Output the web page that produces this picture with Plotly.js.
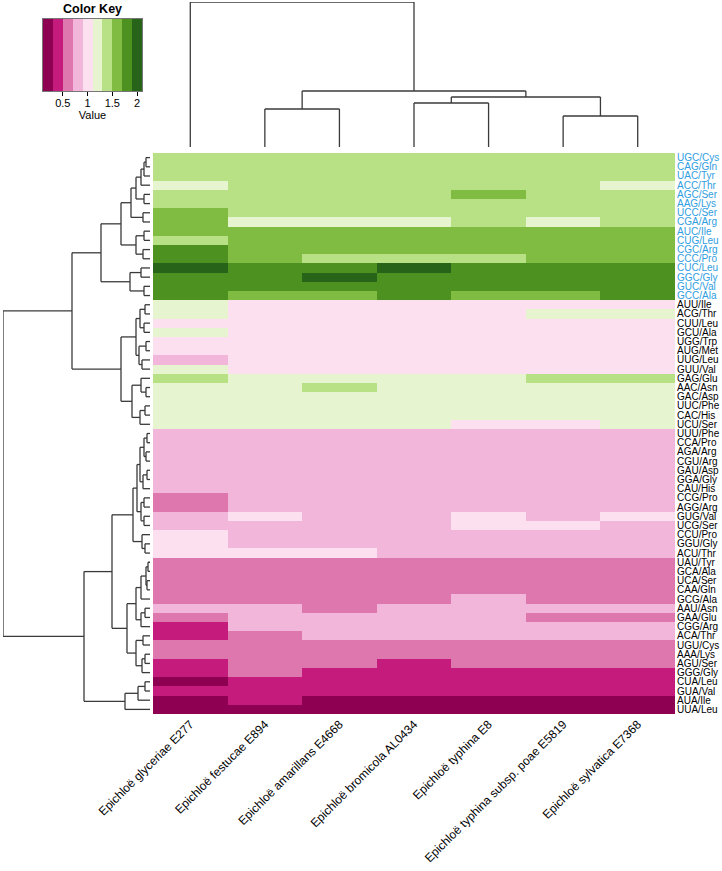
<!DOCTYPE html>
<html>
<head>
<meta charset="utf-8">
<script src="https://cdn.plot.ly/plotly-3.0.1.min.js"></script>
<style>
html,body{margin:0;padding:0;background:#fff;}
#chart{width:722px;height:871px;}
</style>
</head>
<body>
<div id="chart"></div>
<script>
// ---------------- data ----------------
const colNames = ["Epichloë glyceriae E277","Epichloë festucae E894","Epichloë amarillans E4668",
  "Epichloë bromicola AL0434","Epichloë typhina E8","Epichloë typhina subsp. poae E5819","Epichloë sylvatica E7368"];

const rowLabels = ["UGC/Cys","CAG/Gln","UAC/Tyr","ACC/Thr","AGC/Ser","AAG/Lys","UCC/Ser","CGA/Arg",
  "AUC/Ile","CUG/Leu","CGC/Arg","CCC/Pro","CUC/Leu","GGC/Gly","GUC/Val","GCC/Ala",
  "AUU/Ile","ACG/Thr","CUU/Leu","GCU/Ala","UGG/Trp","AUG/Met","UUG/Leu","GUU/Val",
  "GAG/Glu","AAC/Asn","GAC/Asp","UUC/Phe","CAC/His","UCU/Ser",
  "UUU/Phe","CCA/Pro","AGA/Arg","CGU/Arg","GAU/Asp","GGA/Gly","CAU/His","CCG/Pro","AGG/Arg",
  "GUG/Val","UCG/Ser","CCU/Pro","GGU/Gly","ACU/Thr",
  "UAU/Tyr","GCA/Ala","UCA/Ser","CAA/Gln","GCG/Ala","AAU/Asn","GAA/Glu","CGG/Arg","ACA/Thr",
  "UGU/Cys","AAA/Lys","AGU/Ser","GGG/Gly","CUA/Leu","GUA/Val","AUA/Ile","UUA/Leu"];

// values per species (rows in rowLabels order)
const glyceriae = [1.4,1.4,1.4,1.2,1.4,1.4,1.6,1.6,1.6,1.4,1.8,1.8,2.0,1.8,1.8,1.8,
  1.2,1.2,1.0,1.2,1.0,1.0,0.8,1.2,
  1.4,1.2,1.2,1.2,1.2,1.2,
  0.8,0.8,0.8,0.8,0.8,0.8,0.8,0.6,0.6,0.8,0.8,1.0,1.0,1.0,
  0.6,0.6,0.6,0.6,0.6,0.8,0.6,0.4,0.4,0.6,0.6,0.4,0.4,0.2,0.4,0.2,0.2];
const festucae = [1.4,1.4,1.4,1.4,1.4,1.4,1.4,1.2,1.6,1.6,1.6,1.6,1.8,1.8,1.8,1.6,
  1.0,1.0,1.0,1.0,1.0,1.0,1.0,1.0,
  1.2,1.2,1.2,1.2,1.2,1.2,
  0.8,0.8,0.8,0.8,0.8,0.8,0.8,0.8,0.8,1.0,0.8,0.8,0.8,1.0,
  0.6,0.6,0.6,0.6,0.6,0.8,0.8,0.8,0.6,0.6,0.6,0.6,0.6,0.4,0.4,0.4,0.2];
const amarillans = [1.4,1.4,1.4,1.4,1.4,1.4,1.4,1.2,1.6,1.6,1.6,1.4,1.8,2.0,1.8,1.6,
  1.0,1.0,1.0,1.0,1.0,1.0,1.0,1.0,
  1.2,1.4,1.2,1.2,1.2,1.2,
  0.8,0.8,0.8,0.8,0.8,0.8,0.8,0.8,0.8,0.8,0.8,0.8,0.8,1.0,
  0.6,0.6,0.6,0.6,0.6,0.6,0.8,0.8,0.8,0.6,0.6,0.6,0.4,0.4,0.4,0.2,0.2];
const bromicola = [1.4,1.4,1.4,1.4,1.4,1.4,1.4,1.2,1.6,1.6,1.6,1.4,2.0,1.8,1.8,1.8,
  1.0,1.0,1.0,1.0,1.0,1.0,1.0,1.0,
  1.2,1.2,1.2,1.2,1.2,1.2,
  0.8,0.8,0.8,0.8,0.8,0.8,0.8,0.8,0.8,0.8,0.8,0.8,0.8,0.8,
  0.6,0.6,0.6,0.6,0.6,0.8,0.8,0.8,0.8,0.6,0.6,0.4,0.4,0.4,0.4,0.2,0.2];
const typhina = [1.4,1.4,1.4,1.4,1.6,1.4,1.4,1.4,1.6,1.6,1.6,1.4,1.8,1.8,1.8,1.6,
  1.0,1.0,1.0,1.0,1.0,1.0,1.0,1.0,
  1.2,1.2,1.2,1.2,1.2,1.0,
  0.8,0.8,0.8,0.8,0.8,0.8,0.8,0.8,0.8,1.0,1.0,0.8,0.8,0.8,
  0.6,0.6,0.6,0.6,0.8,0.8,0.8,0.8,0.8,0.6,0.6,0.6,0.4,0.4,0.4,0.2,0.2];
const poae = [1.4,1.4,1.4,1.4,1.4,1.4,1.4,1.2,1.6,1.6,1.6,1.6,1.8,1.8,1.8,1.6,
  1.0,1.2,1.0,1.0,1.0,1.0,1.0,1.0,
  1.4,1.2,1.2,1.2,1.2,1.0,
  0.8,0.8,0.8,0.8,0.8,0.8,0.8,0.8,0.8,0.8,1.0,0.8,0.8,0.8,
  0.6,0.6,0.6,0.6,0.6,0.8,0.6,0.8,0.8,0.6,0.6,0.6,0.4,0.4,0.4,0.2,0.2];
const sylvatica = [1.4,1.4,1.4,1.2,1.4,1.4,1.4,1.4,1.6,1.6,1.6,1.6,1.8,1.8,1.8,1.8,
  1.0,1.2,1.0,1.0,1.0,1.0,1.0,1.0,
  1.4,1.2,1.2,1.2,1.2,1.2,
  0.8,0.8,0.8,0.8,0.8,0.8,0.8,0.8,0.8,1.0,0.8,0.8,0.8,0.8,
  0.6,0.6,0.6,0.6,0.6,0.8,0.6,0.8,0.8,0.6,0.6,0.6,0.4,0.4,0.4,0.2,0.2];

const keyColors = ["#8E0152","#C51B7D","#DE77AE","#F1B6DA","#FDE0EF","#E6F5D0","#B8E186","#7FBC41","#4D9221","#276419"];
const keyBreakMin = 0.1, keyBreakMax = 2.1;
const keyMids = [0.2,0.4,0.6,0.8,1.0,1.2,1.4,1.6,1.8,2.0];
const keyTicks = [0.5,1,1.5,2];

// dendrograms: [height, left, right]; leaves are row / column indices
const colTree = [145, 0, [56, [38, 1, 2], [50, [44, 3, 4], [31, 5, 6]]]];
const rowTree = [147,
  [78,
    [49,
      [29,
        [19, [14, [9, [6, [4, 0, 1], 2], 3], [6, 4, 5]], [7, 6, 7]],
        [14, [6, 8, 9], [7, 10, 11]]],
      [20, [9, 12, 13], [6, 14, 15]]],
    [29,
      [14, [10, [5, 16, 17], [6, 18, 19]], [11, [4, 20, 21], [8, 22, 23]]],
      [18, [9, 24, [4, 25, 26]], [10, [5, 27, 28], 29]]]],
  [66,
    [38,
      [17,
        [13, [10, [6, [3, 30, 31], [4, 32, 33]], [7, [3, 34, 35], 36]], [9, [6, 37, 38], [6, 39, 40]]],
        [8, 41, [5, 42, 43]]],
      [23,
        [14, [9, [4, [2, 44, 45], [3, 46, 47]], 48], [9, [5, 49, 50], 51]],
        [14, [7, 52, 53], [8, [5, 54, 55], 56]]]],
    [25, [12, [5, 57, 58], 59], 60]]];

// ---------------- build ----------------
const W = 722, H = 871;
const species = [glyceriae, festucae, amarillans, bromicola, typhina, poae, sylvatica];
const z = rowLabels.map((_, i) => species.map(s => s[i]));

const cs = [];
keyColors.forEach((c, k) => { cs.push([k / 10, c]); cs.push([(k + 1) / 10, c]); });

function walk(node, segs) {
  if (typeof node === 'number') return {p: node, h: 0};
  const a = walk(node[1], segs), b = walk(node[2], segs);
  segs.push([a.p, a.h, a.p, node[0]]);
  segs.push([b.p, b.h, b.p, node[0]]);
  segs.push([a.p, node[0], b.p, node[0]]);
  return {p: (a.p + b.p) / 2, h: node[0]};
}
const rs = [], csg = [];
walk(rowTree, rs); walk(colTree, csg);
const rdx = [], rdy = [];
rs.forEach(s => { rdx.push(s[1], s[3], null); rdy.push(s[0], s[2], null); });
const cdx = [], cdy = [];
csg.forEach(s => { cdx.push(s[0], s[2], null); cdy.push(s[1], s[3], null); });

const FONT = 'Liberation Sans, Arial, sans-serif';
const lineCol = '#3a3a3a';

const traces = [
  {type: 'heatmap', z: z, x: colNames.map((_, j) => j), y: rowLabels.map((_, i) => i),
   colorscale: cs, zmin: keyBreakMin, zmax: keyBreakMax, showscale: false, xaxis: 'x', yaxis: 'y', hoverinfo: 'skip'},
  {type: 'scatter', mode: 'lines', x: rdx, y: rdy, xaxis: 'x2', yaxis: 'y',
   line: {color: lineCol, width: 1.3}, hoverinfo: 'skip', showlegend: false},
  {type: 'scatter', mode: 'lines', x: cdx, y: cdy, xaxis: 'x', yaxis: 'y2',
   line: {color: lineCol, width: 1.3}, hoverinfo: 'skip', showlegend: false},
  {type: 'heatmap', z: [keyMids], x: keyMids, y: [0], colorscale: cs, zmin: keyBreakMin, zmax: keyBreakMax,
   showscale: false, xaxis: 'x3', yaxis: 'y3', hoverinfo: 'skip'}
];

const annotations = rowLabels.map((t, i) => ({
  text: t, x: 676 / W, xref: 'paper', xanchor: 'left', y: i, yref: 'y', yanchor: 'middle',
  showarrow: false, borderpad: 0, font: {family: FONT, size: 10, color: i < 16 ? '#2f9ee0' : '#000'}
}));
annotations.push({text: '<b>Color Key</b>', x: 92 / W, xref: 'paper', xanchor: 'center',
  y: 1 - 9 / H, yref: 'paper', yanchor: 'middle', showarrow: false, font: {family: FONT, size: 12.5, color: '#000'}});

const layout = {
  width: W, height: H, margin: {l: 0, r: 0, t: 0, b: 0},
  paper_bgcolor: '#fff', plot_bgcolor: '#fff', showlegend: false,
  font: {family: FONT, color: '#000'},
  xaxis: {domain: [153 / W, 675 / W], range: [-0.5, 6.5], anchor: 'y',
    tickvals: colNames.map((_, j) => j), ticktext: colNames, tickangle: -45, ticks: '',
    tickfont: {family: FONT, size: 12, color: '#000'}, showgrid: false, zeroline: false, showline: false},
  yaxis: {domain: [1 - 714 / H, 1 - 153 / H], range: [60.5, -0.5], anchor: 'x',
    showticklabels: false, ticks: '', showgrid: false, zeroline: false, showline: false},
  xaxis2: {domain: [3 / W, 150 / W], range: [147, 0], anchor: 'y', visible: false},
  yaxis2: {domain: [1 - 147 / H, 1 - 2 / H], range: [0, 145], anchor: 'x', visible: false},
  xaxis3: {domain: [43 / W, 142 / W], range: [keyBreakMin, keyBreakMax], anchor: 'y3',
    tickvals: keyTicks, ticktext: keyTicks.map(String), ticks: 'outside', ticklen: 4, tickcolor: '#000',
    tickfont: {family: FONT, size: 11, color: '#000'}, showgrid: false, zeroline: false,
    showline: true, mirror: true, linecolor: '#777', linewidth: 1, ticklabelstandoff: -2,
    title: {text: 'Value', font: {family: FONT, size: 11, color: '#000'}, standoff: 0}},
  yaxis3: {domain: [1 - 91 / H, 1 - 19 / H], range: [-0.5, 0.5], anchor: 'x3',
    showticklabels: false, ticks: '', showgrid: false, zeroline: false,
    showline: true, mirror: true, linecolor: '#777', linewidth: 1},
  annotations: annotations
};

Plotly.newPlot('chart', traces, layout, {staticPlot: true, displayModeBar: false});
</script>
</body>
</html>
